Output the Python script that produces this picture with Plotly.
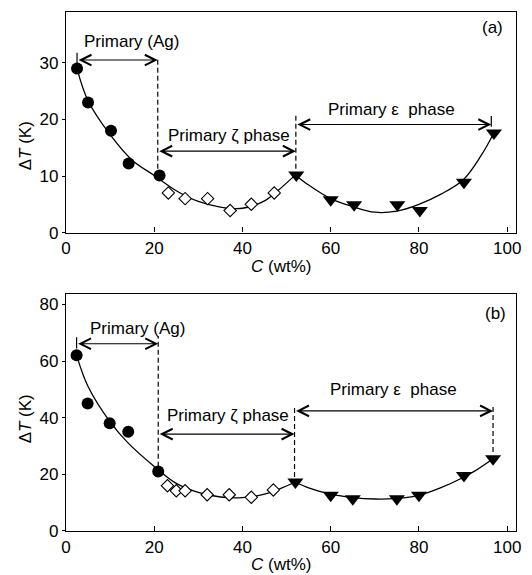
import plotly.graph_objects as go

# ---------------- data: panel (a) ----------------
a_ag_x = [2.5, 5.0, 10.2, 14.2, 21.2]
a_ag_y = [29.0, 23.0, 18.0, 12.2, 10.1]
a_zeta_x = [23.2, 27.0, 32.1, 37.2, 42.0, 47.2]
a_zeta_y = [7.0, 6.0, 6.0, 3.9, 5.0, 7.0]
a_eps_x = [52.2, 60.0, 65.3, 75.1, 80.2, 90.2, 97.0]
a_eps_y = [10.2, 5.8, 4.9, 4.9, 3.9, 8.9, 17.6]
# fitted curves
a_fit1_x = [2.5, 5, 10, 15, 20, 25, 30, 35, 40, 45, 48, 52]
a_fit1_y = [29.0, 23.3, 17.3, 12.8, 10.1, 7.4, 5.5, 4.5, 4.3, 5.6, 7.4, 10.2]
a_fit2_x = [52, 55, 60, 65, 70, 75, 80, 85, 90, 94, 97]
a_fit2_y = [10.2, 8.4, 6.0, 4.6, 3.6, 3.8, 5.0, 6.8, 9.3, 13.5, 17.6]
# phase boundaries and guide lines
a_bounds = [2.5, 20.8, 52.1, 96.4]
a_guide_top = [31.8, 30.8, 21.0, 20.6]
a_guide_bot = [30.0, 11.3, 11.3, 18.7]
a_guide_dash = [False, True, True, False]
a_arrow_from = [2.5, 20.8, 52.1]
a_arrow_to = [20.8, 52.1, 96.4]
a_arrow_level = [30.5, 14.4, 19.1]

# ---------------- data: panel (b) ----------------
b_ag_x = [2.4, 4.9, 9.9, 14.1, 20.9]
b_ag_y = [62.0, 45.0, 38.0, 35.0, 21.0]
b_zeta_x = [23.0, 25.0, 27.0, 32.0, 37.0, 42.0, 47.0]
b_zeta_y = [16.0, 14.2, 14.2, 12.8, 12.8, 11.9, 14.5]
b_eps_x = [52.0, 60.0, 65.0, 75.0, 80.0, 90.2, 96.8]
b_eps_y = [17.3, 12.6, 11.4, 11.4, 12.6, 19.6, 25.5]
b_fit1_x = [2.4, 5, 10, 14, 20, 25, 30, 35, 40, 45, 48, 52]
b_fit1_y = [62.0, 51.0, 38.5, 31.2, 22.8, 16.8, 13.6, 12.0, 11.8, 13.0, 14.6, 17.3]
b_fit2_x = [52, 55, 60, 65, 70, 75, 80, 85, 90, 93, 96.8]
b_fit2_y = [17.3, 15.2, 13.0, 11.8, 11.3, 11.5, 12.6, 15.3, 18.9, 21.5, 25.5]
b_bounds = [2.4, 20.9, 51.8, 96.8]
b_guide_top = [68.4, 68.7, 44.4, 44.4]
b_guide_bot = [64.4, 22.7, 19.1, 27.9]
b_guide_dash = [False, True, True, True]
b_arrow_from = [2.4, 20.9, 51.8]
b_arrow_to = [20.9, 51.8, 96.8]
b_arrow_level = [66.1, 34.2, 42.4]

region_labels = ["Primary (Ag)", "Primary ζ phase", "Primary ε  phase"]
x_ticks = [0, 20, 40, 60, 80, 100]
a_y_ticks = [0, 10, 20, 30]
b_y_ticks = [0, 20, 40, 60, 80]

FONT = "Liberation Sans, Arial, sans-serif"
FS = 17

fig = go.Figure()

panels = [
    dict(xa="x", ya="y", fit=[(a_fit1_x, a_fit1_y), (a_fit2_x, a_fit2_y)],
         ag=(a_ag_x, a_ag_y), zeta=(a_zeta_x, a_zeta_y), eps=(a_eps_x, a_eps_y),
         bounds=a_bounds, gt=a_guide_top, gb=a_guide_bot, gd=a_guide_dash,
         af=a_arrow_from, at=a_arrow_to, al=a_arrow_level),
    dict(xa="x2", ya="y2", fit=[(b_fit1_x, b_fit1_y), (b_fit2_x, b_fit2_y)],
         ag=(b_ag_x, b_ag_y), zeta=(b_zeta_x, b_zeta_y), eps=(b_eps_x, b_eps_y),
         bounds=b_bounds, gt=b_guide_top, gb=b_guide_bot, gd=b_guide_dash,
         af=b_arrow_from, at=b_arrow_to, al=b_arrow_level),
]

shapes = []
annotations = []
for p in panels:
    for fx, fy in p["fit"]:
        fig.add_trace(go.Scatter(x=fx, y=fy, mode="lines", xaxis=p["xa"], yaxis=p["ya"],
                                 line=dict(color="black", width=1.3, shape="spline", smoothing=1.0),
                                 showlegend=False, hoverinfo="skip"))
    fig.add_trace(go.Scatter(x=p["ag"][0], y=p["ag"][1], mode="markers", xaxis=p["xa"], yaxis=p["ya"],
                             marker=dict(symbol="circle", size=12, color="black"), showlegend=False))
    fig.add_trace(go.Scatter(x=p["zeta"][0], y=p["zeta"][1], mode="markers", xaxis=p["xa"], yaxis=p["ya"],
                             marker=dict(symbol="diamond", size=9.5, color="white",
                                         line=dict(color="black", width=1.1)), showlegend=False))
    fig.add_trace(go.Scatter(x=p["eps"][0], y=p["eps"][1], mode="markers", xaxis=p["xa"], yaxis=p["ya"],
                             marker=dict(symbol="triangle-down", size=14, color="black"), showlegend=False))
    for bx, t, b, d in zip(p["bounds"], p["gt"], p["gb"], p["gd"]):
        shapes.append(dict(type="line", xref=p["xa"], yref=p["ya"], x0=bx, x1=bx, y0=b, y1=t,
                           line=dict(color="black", width=1.2, dash="5px,3px" if d else "solid")))
    for f, t, lv in zip(p["af"], p["at"], p["al"]):
        annotations.append(dict(x=t, y=lv, ax=f, ay=lv, xref=p["xa"], yref=p["ya"],
                                axref=p["xa"], ayref=p["ya"], text="", showarrow=True,
                                arrowhead=5, startarrowhead=5, arrowside="end+start",
                                arrowsize=1.9, startarrowsize=1.9, arrowwidth=1.1,
                                arrowcolor="black"))

def txt(s, x, y, xr, yr, xanchor="center", angle=0):
    annotations.append(dict(text=s, x=x, y=y, xref=xr, yref=yr, showarrow=False,
                            xanchor=xanchor, yanchor="middle", textangle=angle,
                            font=dict(family=FONT, size=FS, color="black")))

# panel (a) labels
txt(region_labels[0], 14.9, 33.8, "x", "y")
txt(region_labels[1], 36.9, 17.1, "x", "y")
txt(region_labels[2], 73.7, 21.8, "x", "y")
txt("(a)", 99.6, 36.2, "x", "y", xanchor="right")
# panel (b) labels
txt(region_labels[0], 16.3, 71.4, "x2", "y2")
txt(region_labels[1], 36.8, 40.9, "x2", "y2")
txt(region_labels[2], 74.3, 49.9, "x2", "y2")
txt("(b)", 100.1, 76.7, "x2", "y2", xanchor="right")
# axis titles
txt("Δ<i>T</i> (K)", -0.0905, 15.3, "paper", "y", angle=-90)
txt("Δ<i>T</i> (K)", -0.0905, 39.5, "paper", "y2", angle=-90)
txt("<i>C</i> (wt%)", 48.8, -0.156, "x", "y domain")
txt("<i>C</i> (wt%)", 48.8, -0.143, "x2", "y2 domain")

axis_common = dict(showline=True, linecolor="black", linewidth=1.2, mirror=True,
                   showgrid=False, zeroline=False, ticks="outside", tickcolor="black",
                   tickfont=dict(family=FONT, size=FS, color="black"))

fig.update_layout(
    width=532, height=575,
    margin=dict(l=66, r=13, t=11, b=44),
    paper_bgcolor="white", plot_bgcolor="white",
    showlegend=False,
    shapes=shapes, annotations=annotations,
    xaxis=dict(axis_common, domain=[0, 1], range=[0, 102], tickvals=x_ticks,
               ticks="inside", ticklen=5, anchor="y"),
    yaxis=dict(axis_common, domain=[0.575, 1], range=[0, 39], tickvals=a_y_ticks,
               ticklen=3, anchor="x"),
    xaxis2=dict(axis_common, domain=[0, 1], range=[0, 102], tickvals=x_ticks,
                ticks="inside", ticklen=5, anchor="y2"),
    yaxis2=dict(axis_common, domain=[0, 0.4558], range=[0, 83.5], tickvals=b_y_ticks,
                ticklen=3, anchor="x2"),
)

fig.write_html("out.html")
